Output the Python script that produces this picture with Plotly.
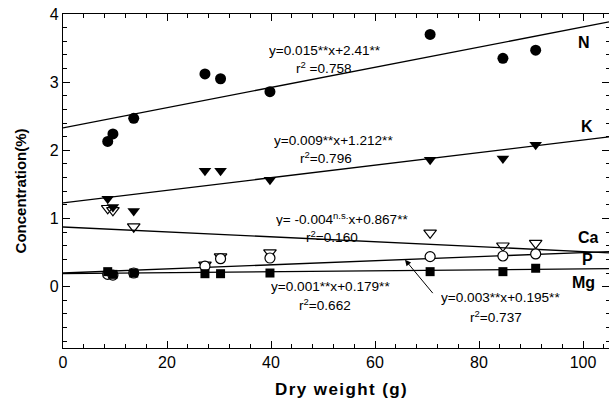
import plotly.graph_objects as go

# ---- data ----
dry_weight = [8.6, 9.6, 13.6, 27.3, 30.3, 39.8, 70.6, 84.6, 90.9]
N_vals  = [2.13, 2.24, 2.47, 3.12, 3.05, 2.86, 3.70, 3.35, 3.47]
K_vals  = [1.29, 1.17, 1.11, 1.70, 1.70, 1.57, 1.86, 1.88, 2.08]
Ca_vals = [1.15, 1.12, 0.88, 0.32, 0.44, 0.50, 0.79, 0.60, 0.64]
P_vals  = [0.18, 0.17, 0.20, 0.30, 0.41, 0.42, 0.44, 0.45, 0.48]
Mg_vals = [0.22, 0.18, 0.20, 0.19, 0.19, 0.20, 0.22, 0.22, 0.27]

elements   = ["N", "K", "Ca", "P", "Mg"]
slopes     = [0.0148, 0.0092, -0.0036, 0.003, 0.0007]
intercepts = [2.33, 1.23, 0.875, 0.20, 0.19]
line_x     = [0, 105]

eq_texts = [
    "y=0.015**x+2.41**",
    "y=0.009**x+1.212**",
    "y= -0.004<sup>n.s.</sup>x+0.867**",
    "y=0.003**x+0.195**",
    "y=0.001**x+0.179**",
]
r2_texts = [
    "r<sup>2</sup> =0.758",
    "r<sup>2</sup>=0.796",
    "r<sup>2</sup>=0.160",
    "r<sup>2</sup>=0.737",
    "r<sup>2</sup>=0.662",
]

FONT = "Arial, 'Liberation Sans', sans-serif"

fig = go.Figure()

# regression lines
for s, b in zip(slopes, intercepts):
    fig.add_trace(go.Scatter(x=line_x, y=[b + s * x for x in line_x], mode="lines",
                             line=dict(color="black", width=1.3), showlegend=False,
                             hoverinfo="skip"))

marker_styles = [
    (N_vals,  dict(symbol="circle", size=11, color="black")),
    (K_vals,  dict(symbol="triangle-down", size=11, color="black")),
    (Ca_vals, dict(symbol="triangle-down-open", size=11, color="black", line=dict(width=1.2))),
    (P_vals,  dict(symbol="circle", size=10, color="white", line=dict(color="black", width=1.2))),
    (Mg_vals, dict(symbol="square", size=9, color="black")),
]
for vals, mk in marker_styles:
    fig.add_trace(go.Scatter(x=dry_weight, y=vals, mode="markers", marker=mk,
                             showlegend=False))

# invisible trace for right-side tick axis
fig.add_trace(go.Scatter(x=[0], y=[0], yaxis="y2", mode="markers",
                         marker=dict(opacity=0), showlegend=False, hoverinfo="skip"))

def px_to_x(px):
    return (px - 63) / 5.2

def py_to_y(py):
    return (287 - py) / 68.3

eq_pos = [(325, 50), (333, 141), (342, 219), (500, 298), (330, 287)]
r2_pos = [(324, 67), (326, 158), (332, 237), (496, 317), (325, 305)]
for t, (px, py) in zip(eq_texts, eq_pos):
    fig.add_annotation(x=px_to_x(px), y=py_to_y(py), text=t, showarrow=False,
                       font=dict(family=FONT, size=13.6, color="black"), height=15,
                       xanchor="center", yanchor="middle")
for t, (px, py) in zip(r2_texts, r2_pos):
    fig.add_annotation(x=px_to_x(px), y=py_to_y(py), text=t, showarrow=False,
                       font=dict(family=FONT, size=13.6, color="black"), height=15,
                       xanchor="center", yanchor="middle")

# arrow for P equation
fig.add_annotation(x=px_to_x(405), y=py_to_y(260), ax=px_to_x(434), ay=py_to_y(295),
                   axref="x", ayref="y", xref="x", yref="y", text="",
                   showarrow=True, arrowhead=2, arrowsize=1.2, arrowwidth=1,
                   arrowcolor="black")

# element labels
lab_pos = [(584, 42), (587, 127), (588, 238), (587, 260), (583, 283)]
for e, (px, py) in zip(elements, lab_pos):
    fig.add_annotation(x=px_to_x(px), y=py_to_y(py), text="<b>%s</b>" % e,
                       showarrow=False, font=dict(family=FONT, size=16, color="black"),
                       height=17, xanchor="center", yanchor="middle")

# axis titles
xtitle = "\u200a".join("Dry weight (g)")
fig.add_annotation(xref="paper", yref="paper", x=0.51, y=-0.125,
                   text="<b>%s</b>" % xtitle,
                   showarrow=False, font=dict(family=FONT, size=17, color="black"),
                   xanchor="center", yanchor="middle")
fig.add_annotation(xref="paper", yref="paper", x=-0.078, y=0.47,
                   text="<b>Concentration(%)</b>", textangle=-90,
                   showarrow=False, font=dict(family=FONT, size=15, color="black"),
                   xanchor="center", yanchor="middle")

fig.update_layout(
    width=609, height=412,
    margin=dict(l=63, r=0, t=14, b=64),
    plot_bgcolor="white", paper_bgcolor="white",
    font=dict(family=FONT, size=15, color="black"),
    xaxis=dict(range=[0, 105], tickvals=[0, 20, 40, 60, 80, 100], ticks="inside",
               ticklen=7, tickwidth=1.3, tickcolor="black", showline=True,
               linecolor="black", linewidth=1.3, mirror="ticks", showgrid=False,
               zeroline=False, tickfont=dict(size=16),
               minor=dict(dtick=4, tick0=0, ticks="inside", ticklen=3.5,
                          tickcolor="black", tickwidth=1, showgrid=False)),
    yaxis=dict(range=[-0.9, 4], tickvals=[0, 1, 2, 3, 4], ticks="inside",
               ticklen=7, tickwidth=1.3, tickcolor="black", showline=True,
               linecolor="black", linewidth=1.3, mirror=False, showgrid=False,
               zeroline=False, tickfont=dict(size=16),
               minor=dict(dtick=0.2, tick0=0, ticks="inside", ticklen=3.5,
                          tickcolor="black", tickwidth=1, showgrid=False)),
    yaxis2=dict(range=[-0.9, 4], overlaying="y", side="right", tickvals=[0, 1, 2, 3, 4],
                ticks="inside", ticklen=7, tickwidth=1.3, tickcolor="black",
                showticklabels=False, showline=False, showgrid=False, zeroline=False,
                minor=dict(dtick=0.2, tick0=0, ticks="inside", ticklen=3.5,
                           tickcolor="black", tickwidth=1, showgrid=False)),
)

fig.write_html("out.html")
